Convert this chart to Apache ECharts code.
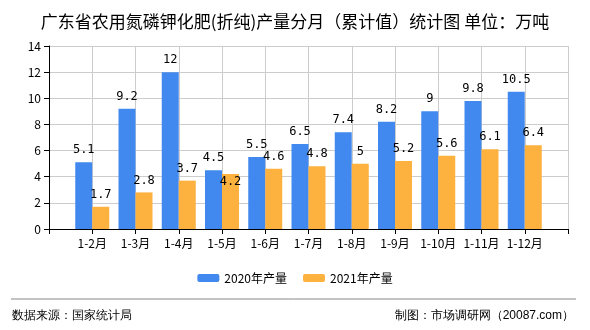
<!DOCTYPE html>
<html><head><meta charset="utf-8">
<script src="https://cdn.jsdelivr.net/npm/echarts@6/dist/echarts.min.js"></script>
<style>html,body{margin:0;padding:0;background:#fff}#c{width:590px;height:330px}</style>
</head><body><div id="c"></div>
<script>
var titleText = '广东省农用氮磷钾化肥(折纯)产量分月（累计值）统计图 单位：万吨';
var categories = ['1-2月','1-3月','1-4月','1-5月','1-6月','1-7月','1-8月','1-9月','1-10月','1-11月','1-12月'];
var seriesNames = ['2020年产量','2021年产量'];
var values2020 = [5.1, 9.2, 12, 4.5, 5.5, 6.5, 7.4, 8.2, 9, 9.8, 10.5];
var values2021 = [1.7, 2.8, 3.7, 4.2, 4.6, 4.8, 5, 5.2, 5.6, 6.1, 6.4];
var yTicks = {min: 0, max: 14, interval: 2};
var sourceText = '数据来源：国家统计局';
var creditText = '制图：市场调研网（20087.com）';

var cats = [''].concat(categories).concat(['']);
function pad(arr){ return ['-'].concat(arr).concat(['-']); }
var d2021 = pad(values2021).map(function(v, i){
  if (i === 4) return {value: v, label: {offset: [0, 20]}};
  return v;
});
var cjk = '"Noto Sans CJK SC", sans-serif';
var chart = echarts.init(document.getElementById('c'), null, {renderer: 'canvas'});
chart.setOption({
  animation: false,
  backgroundColor: '#fff',
  title: {text: titleText, left: 'center', top: 8,
    textStyle: {fontSize: 17, fontWeight: 'normal', color: '#000', fontFamily: cjk}},
  grid: {left: 49, right: 22, top: 46, bottom: 101},
  legend: {data: seriesNames, bottom: 41, left: 'center', itemWidth: 22, itemHeight: 8, itemGap: 16,
    textStyle: {fontSize: 12, color: '#000', fontFamily: cjk}},
  xAxis: {type: 'category', data: cats, boundaryGap: false,
    axisLine: {lineStyle: {color: '#000'}},
    axisTick: {show: true, interval: 0, lineStyle: {color: '#000'}},
    axisLabel: {interval: 0, color: '#000', fontSize: 12, fontFamily: cjk, margin: 8},
    splitLine: {show: true, interval: 0, lineStyle: {color: '#ccc'}}},
  yAxis: {type: 'value', min: yTicks.min, max: yTicks.max, interval: yTicks.interval,
    axisLine: {show: true, lineStyle: {color: '#000'}},
    axisTick: {show: true, lineStyle: {color: '#000'}},
    axisLabel: {color: '#000', fontSize: 12, fontFamily: cjk},
    splitLine: {show: true, lineStyle: {color: '#ccc'}}},
  series: [
    {name: seriesNames[0], type: 'bar', data: pad(values2020), barWidth: 17, barGap: '0%',
      itemStyle: {color: '#4189EE'},
      label: {show: true, position: 'top', distance: 6, color: '#000', fontSize: 12, fontFamily: '"DejaVu Sans Mono", monospace'}},
    {name: seriesNames[1], type: 'bar', data: d2021, barWidth: 17, barGap: '0%',
      itemStyle: {color: '#FDB13F'},
      label: {show: true, position: 'top', distance: 6, color: '#000', fontSize: 12, fontFamily: '"DejaVu Sans Mono", monospace'}}
  ],
  graphic: [
    {type: 'line', shape: {x1: 11, y1: 299, x2: 576, y2: 299}, style: {stroke: '#888', lineWidth: 1}},
    {type: 'text', left: 12, top: 310, style: {text: sourceText, fontSize: 12, fill: '#000', font: '12px ' + cjk}},
    {type: 'text', right: 16, top: 310, style: {text: creditText, fontSize: 12, fill: '#000', font: '12px ' + cjk}}
  ]
});
</script></body></html>
